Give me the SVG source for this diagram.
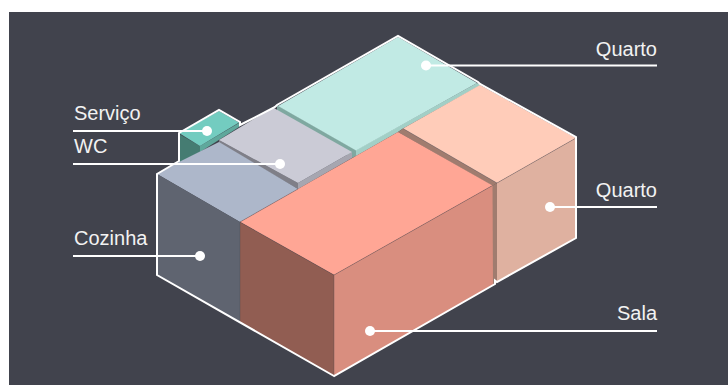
<svg xmlns="http://www.w3.org/2000/svg" width="728" height="385" viewBox="0 0 728 385">
<style>
text{font-family:"Liberation Sans",Arial,sans-serif;font-size:20px;fill:#f2f2f2}
.end{text-anchor:end}
.ln{fill:none;stroke:#fff;stroke-width:2}
.dot{fill:#fff}
.edge{fill:none;stroke:#41434d;stroke-opacity:.3;stroke-width:1}
</style>
<rect width="728" height="385" fill="#fff"/>
<rect x="9" y="12" width="719" height="373" fill="#41434d"/>
<g id="servico">
<polygon points="179,134 200,146 200,152 179,163" fill="#457c72"/>
<polygon points="200,146 239,123 239,127 200,152" fill="#5fa89c"/>
<polygon points="179,133 219,111 239,122.500 200,146" fill="#73ccc0"/>
</g>
<g id="quarto-top">
<polygon points="277,105 356,150 356,156 352,158 277,111" fill="#7fa8a0"/>
<polygon points="356,150 477,83 481,85 403,128.500 398,132 356,156" fill="#a2cfc6"/>
<polygon points="398,37 477,83 356,150.500 278,106" fill="#c1eae4"/>
</g>
<g id="wc">
<polygon points="219,140 298,183 298,189 219,143" fill="#7f7f88"/>
<polygon points="298,183 352,152 352,158 298,189" fill="#a6a6b0"/>
<polygon points="219,140 273,107.500 352,152 298,183" fill="#cbcbd6"/>
</g>
<g id="cozinha">
<polygon points="157,174 179,162 219,142 298,189 240,222" fill="#adb7ca"/>
<polygon points="157,174 240,222 240,322 157,275" fill="#5f6470"/>
</g>
<g id="quarto-right">
<polygon points="398,132 403,128.500 497,183 492.500,186" fill="#a07c6f"/>
<polygon points="492,186 497,183 497,283 492,285" fill="#a07c6f"/>
<polygon points="403,128.500 480,85 576,138 497,183" fill="#ffccb9"/>
<polygon points="497,183 576,138 576,238 497,282" fill="#dfb1a0"/>
<path class="edge" d="M403,128.500 L497,183 L576,138"/>
</g>
<g id="sala">
<polygon points="240,222 398,132 492.500,185.500 334,275" fill="#ffa695"/>
<polygon points="240,222 334,275 334,376 240,322" fill="#915d52"/>
<polygon points="334,275 492.500,185.500 493,285 334,376" fill="#d98e7f"/>
<path class="edge" d="M240,222 L334,275 L492.500,185.500 M334,275 V376 M240,222 V322 M240,222 L298,189"/>
</g>
<g id="connectors">
<path class="ln" d="M334,376 L157,275 V174 L179,161 V133 L219,110 L240,122 V125 L275,107 L277,105 L398,36 L478,82 L480,84 L576,137 V238 L497,282 L495,280.500 V284 Z"/>
<path class="ln" d="M73,131 H207"/>
<path class="ln" d="M73,164 H280"/>
<path class="ln" d="M73,256 H200"/>
<path class="ln" d="M426,65.500 H657"/>
<path class="ln" d="M550,207 H657"/>
<path class="ln" d="M370,331 H657"/>
<circle class="dot" cx="207" cy="131" r="5"/>
<circle class="dot" cx="280" cy="164" r="5"/>
<circle class="dot" cx="200" cy="256" r="5"/>
<circle class="dot" cx="426" cy="65.500" r="5"/>
<circle class="dot" cx="550" cy="207" r="5"/>
<circle class="dot" cx="370" cy="331" r="5"/>
</g>
<g id="labels">
<text x="74" y="120">Serviço</text>
<text x="74" y="153">WC</text>
<text x="74" y="245">Cozinha</text>
<text class="end" x="657" y="56">Quarto</text>
<text class="end" x="657" y="197">Quarto</text>
<text class="end" x="657" y="320">Sala</text>
</g>
</svg>
